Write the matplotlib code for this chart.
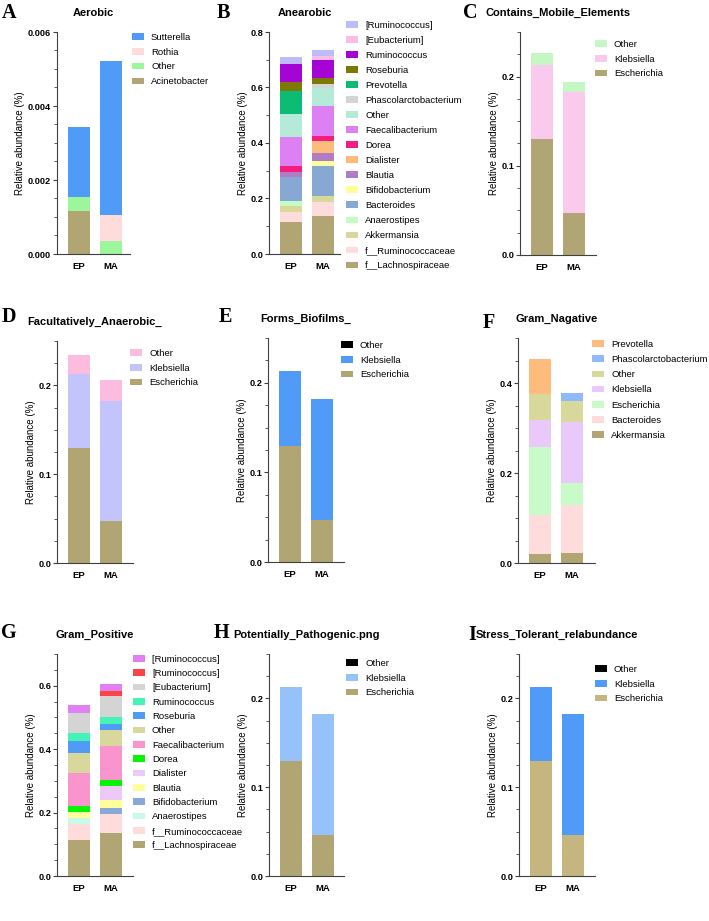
import numpy as np
import matplotlib
matplotlib.use("Agg")
import matplotlib.pyplot as plt
from matplotlib.ticker import MultipleLocator, FormatStrFormatter

plt.rcParams['font.family'] = ['Liberation Sans', 'DejaVu Sans']

groups = ["EP", "MA"]

# ---- A: Aerobic (bottom -> top)
a_taxa = ["Acinetobacter", "Other", "Rothia", "Sutterella"]
a_ep = [0.00115, 0.0004, 0.0, 0.00188]
a_ma = [0.0, 0.00035, 0.0007, 0.00417]
a_colors = ["#b1a574", "#9cf79c", "#ffdcdc", "#4f9bf7"]

# ---- B: Anearobic
b_taxa = ["f__Lachnospiraceae", "f__Ruminococcaceae", "Akkermansia", "Anaerostipes",
          "Bacteroides", "Bifidobacterium", "Blautia", "Dialister", "Dorea",
          "Faecalibacterium", "Other", "Phascolarctobacterium", "Prevotella",
          "Roseburia", "Ruminococcus", "[Eubacterium]", "[Ruminococcus]"]
b_ep = [0.114, 0.037, 0.023, 0.017, 0.085, 0.0, 0.021, 0.0, 0.020,
        0.103, 0.086, 0.0, 0.080, 0.035, 0.062, 0.0, 0.026]
b_ma = [0.136, 0.053, 0.021, 0.0, 0.108, 0.018, 0.029, 0.043, 0.018,
        0.109, 0.062, 0.016, 0.0, 0.020, 0.065, 0.016, 0.022]
b_colors = ["#b1a574", "#ffdcdc", "#d9d89c", "#c4fcc4", "#88a8d4", "#fefe9a",
            "#b07cc4", "#fdbb7c", "#f41c7c", "#dc80f4", "#b4ead8", "#d4d4d4",
            "#0cbc74", "#7c7a04", "#a404d4", "#fcbce4", "#bcbcfc"]

# ---- C: Contains_Mobile_Elements
c_taxa = ["Escherichia", "Klebsiella", "Other"]
c_ep = [0.1305, 0.082, 0.0135]
c_ma = [0.0467, 0.1357, 0.012]
c_colors = ["#b1a574", "#f9c9ee", "#c4f7c4"]

# ---- D: Facultatively_Anaerobic_
d_taxa = ["Escherichia", "Klebsiella", "Other"]
d_ep = [0.130, 0.0824, 0.0221]
d_ma = [0.0469, 0.1355, 0.024]
d_colors = ["#b1a574", "#c4c4fc", "#fcbce0"]

# ---- E: Forms_Biofilms_
e_taxa = ["Escherichia", "Klebsiella", "Other"]
e_ep = [0.130, 0.083, 0.0]
e_ma = [0.047, 0.135, 0.0]
e_colors = ["#b1a574", "#4f9bf7", "#000000"]

# ---- F: Gram_Nagative
f_taxa = ["Akkermansia", "Bacteroides", "Escherichia", "Klebsiella", "Other",
          "Phascolarctobacterium", "Prevotella"]
f_ep = [0.0207, 0.086, 0.151, 0.061, 0.0566, 0.0, 0.0784]
f_ma = [0.023, 0.107, 0.047, 0.1356, 0.048, 0.0178, 0.0]
f_colors = ["#b1a574", "#ffdcdc", "#c9fbc9", "#e9c9f9", "#d9d89c", "#8fb9f9", "#fdbb7c"]

# ---- G: Gram_Positive
g_taxa = ["f__Lachnospiraceae", "f__Ruminococcaceae", "Anaerostipes", "Bifidobacterium",
          "Blautia", "Dialister", "Dorea", "Faecalibacterium", "Other", "Roseburia",
          "Ruminococcus", "[Eubacterium]", "[Ruminococcus]", "[Ruminococcus] "]
g_ep = [0.1137, 0.049, 0.019, 0.0, 0.019, 0.0, 0.020, 0.104, 0.064, 0.037,
        0.026, 0.061, 0.0, 0.025]
g_ma = [0.1358, 0.059, 0.0, 0.019, 0.027, 0.044, 0.017, 0.1085, 0.0505, 0.018,
        0.024, 0.064, 0.018, 0.022]
g_colors = ["#b1a574", "#ffdcdc", "#c9f9e9", "#88a8d8", "#fefe9a", "#ecc9f9",
            "#04f404", "#f994cc", "#d9d89c", "#4f9bf7", "#44f4b4", "#d4d4d4",
            "#fc4444", "#e080f4"]

# ---- H: Potentially_Pathogenic
h_taxa = ["Escherichia", "Klebsiella", "Other"]
h_ep = [0.130, 0.0828, 0.0]
h_ma = [0.046, 0.1367, 0.0]
h_colors = ["#b1a574", "#96c1f9", "#000000"]

# ---- I: Stress_Tolerant
i_taxa = ["Escherichia", "Klebsiella", "Other"]
i_ep = [0.130, 0.0828, 0.0]
i_ma = [0.046, 0.1367, 0.0]
i_colors = ["#c4b67e", "#4f9bf7", "#000000"]

W, H = 709, 921
fig = plt.figure(figsize=(W / 100, H / 100), dpi=100)


def px(x, y):
    return x / W, 1 - y / H


def panel(box, taxa, ep, ma, colors, ymax, major, minor, fmt, title, letter,
          letter_xy, leg_xy, leg_space=15):
    x0, y0, x1, y1 = box
    ax = fig.add_axes([x0 / W, 1 - y1 / H, (x1 - x0) / W, (y1 - y0) / H])
    xs = np.arange(len(groups))
    bottom = np.zeros(2)
    handles = []
    for name, e, m, c in zip(taxa, ep, ma, colors):
        vals = np.array([e, m])
        b = ax.bar(xs, vals, 0.69, bottom=bottom, color=c, label=name, linewidth=0)
        handles.append(b)
        bottom += vals
    ax.set_xlim(-0.69, ((x1 - x0) - 22) / 32)
    ax.set_ylim(0, ymax)
    ax.yaxis.set_major_locator(MultipleLocator(major))
    ax.yaxis.set_minor_locator(MultipleLocator(minor))
    ax.yaxis.set_major_formatter(FormatStrFormatter(fmt))
    ax.set_xticks(xs)
    ax.set_xticklabels(groups, fontsize=6.8, fontweight='bold')
    for s in ['top', 'right']:
        ax.spines[s].set_visible(False)
    for s in ['left', 'bottom']:
        ax.spines[s].set_color('#404040')
        ax.spines[s].set_linewidth(0.8)
    ax.tick_params(axis='x', length=0, pad=5.5)
    ax.tick_params(axis='y', which='major', length=3, width=0.8, color='#404040',
                   labelsize=6.6, pad=1.2)
    ax.tick_params(axis='y', which='minor', length=2, width=0.6, color='#404040')
    for t in ax.get_yticklabels():
        t.set_fontweight('bold')
    ax.set_ylabel("Relative abundance (%)", fontsize=7, labelpad=2)
    fig.text((x0 + x1) / 2 / W, 1 - (y0 - 19) / H, title, fontsize=8,
             fontweight='bold', ha='center', va='center')
    fig.text(*px(*letter_xy), letter, fontsize=14.5, fontweight='bold',
             family=['Liberation Serif', 'DejaVu Serif'], ha='center', va='center')
    fs = 6.8
    fpx = fs * 100 / 72
    lx, ly = leg_xy
    ax.legend(handles[::-1], taxa[::-1], loc='upper left',
              bbox_to_anchor=px(lx, ly - 0.35 * fpx), bbox_transform=fig.transFigure,
              frameon=False, fontsize=fs, borderpad=0, borderaxespad=0,
              handlelength=12 / fpx, handleheight=0.72, handletextpad=7 / fpx,
              labelspacing=(leg_space - 0.97 * fpx) / fpx)
    return ax


panel((57, 32, 130, 254), a_taxa, a_ep, a_ma, a_colors, 0.006, 0.002, 0.0005, '%.3f',
      "Aerobic", "A", (9, 13), (132, 36))
panel((269, 32, 340, 254), b_taxa, b_ep, b_ma, b_colors, 0.8, 0.2, 0.1, '%.1f',
      "Anearobic", "B", (223, 13), (346, 24), leg_space=15.2)
panel((520, 32, 596, 255), c_taxa, c_ep, c_ma, c_colors, 0.25, 0.1, 0.025, '%.1f',
      "Contains_Mobile_Elements", "C", (470, 13), (595, 43))
panel((57, 341, 133, 563), d_taxa, d_ep, d_ma, d_colors, 0.25, 0.1, 0.025, '%.1f',
      "Facultatively_Anaerobic_", "D", (9, 317), (130, 352))
panel((268, 338, 344, 562), e_taxa, e_ep, e_ma, e_colors, 0.25, 0.1, 0.025, '%.1f',
      "Forms_Biofilms_", "E", (225, 317), (341, 344))
panel((518, 338, 595, 563), f_taxa, f_ep, f_ma, f_colors, 0.5, 0.2, 0.05, '%.1f',
      "Gram_Nagative", "F", (489, 323), (592, 343), leg_space=15.4)
panel((57, 654, 133, 876), g_taxa, g_ep, g_ma, g_colors, 0.7, 0.2, 0.05, '%.1f',
      "Gram_Positive", "G", (9, 633), (133, 658), leg_space=14.5)
panel((269, 654, 344, 876), h_taxa, h_ep, h_ma, h_colors, 0.25, 0.1, 0.025, '%.1f',
      "Potentially_Pathogenic.png", "H", (222, 633), (346, 662))
panel((519, 654, 595, 876), i_taxa, i_ep, i_ma, i_colors, 0.25, 0.1, 0.025, '%.1f',
      "Stress_Tolerant_relabundance", "I", (472, 635), (595, 668))

fig.savefig("out.png", dpi=100)
